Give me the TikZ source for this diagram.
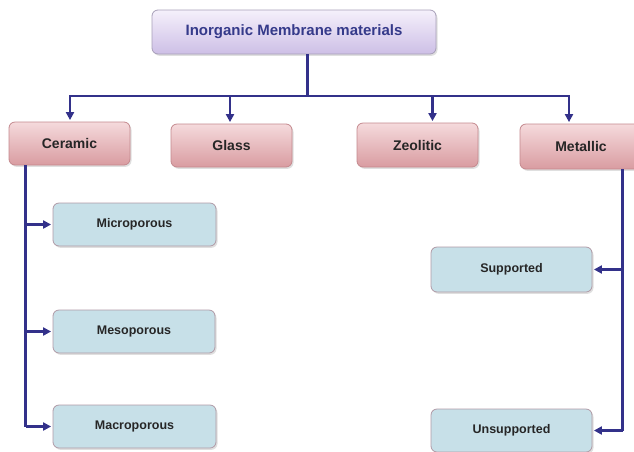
\documentclass[tikz,border=0pt]{standalone}
\usepackage{fontspec}
\setmainfont{Liberation Sans}
\usetikzlibrary{arrows.meta,shadows}

\definecolor{linkblue}{HTML}{33318A}
\definecolor{titleblue}{HTML}{353A8A}
\definecolor{pinktop}{HTML}{F5DADC}
\definecolor{pinkbot}{HTML}{D99CA1}
\definecolor{pinkedge}{HTML}{C4898E}
\definecolor{lavtop}{HTML}{F5F0FB}
\definecolor{lavbot}{HTML}{CDBFE6}
\definecolor{lavedge}{HTML}{A79FB8}
\definecolor{cyanfill}{HTML}{C7E0E8}
\definecolor{cyanedge}{HTML}{B09AA6}

\tikzset{
  boxbase/.style={rectangle, rounded corners=6pt, line width=0.8pt,
    drop shadow={opacity=0.25, shadow xshift=1.5pt, shadow yshift=-1.8pt},
    font=\bfseries, align=center, inner sep=0pt},
  titlebox/.style={boxbase, draw=lavedge, top color=lavtop, bottom color=lavbot,
    text=titleblue, font=\fontsize{15}{18}\selectfont\bfseries},
  kindbox/.style={boxbase, draw=pinkedge, top color=pinktop, bottom color=pinkbot,
    text=black!85, font=\fontsize{14}{17}\selectfont\bfseries},
  subbox/.style={boxbase, draw=cyanedge, fill=cyanfill,
    text=black!85, font=\fontsize{12.5}{15}\selectfont\bfseries},
  wire/.style={draw=linkblue, line width=2.2pt},
  link/.style={wire, -{Triangle[length=8pt,width=8pt]}, shorten >=1.5pt}
}

\begin{document}
\begin{tikzpicture}[x=1pt, y=-1pt]
  \useasboundingbox (0,0) rectangle (634,451);
  \clip (0,0) rectangle (634,451);

  % title
  \node[titlebox, minimum width=284pt, minimum height=44pt] (top) at (294,32)
    {Inorganic Membrane materials};

  % material classes
  \node[kindbox, minimum width=121pt, minimum height=43pt] (ceramic)  at (69.5,143.5) {Ceramic};
  \node[kindbox, minimum width=121pt, minimum height=43pt] (glass)    at (231.5,145.5) {Glass};
  \node[kindbox, minimum width=121pt, minimum height=44pt] (zeolitic) at (417.5,145) {Zeolitic};
  \node[kindbox, minimum width=122pt, minimum height=45pt] (metallic) at (581,146.5) {Metallic};

  % ceramic sub-types
  \node[subbox, minimum width=163pt, minimum height=43pt] (micro) at (134.5,224.5) {Microporous};
  \node[subbox, minimum width=162pt, minimum height=43pt] (meso)  at (134,331.5) {Mesoporous};
  \node[subbox, minimum width=163pt, minimum height=43pt] (macro) at (134.5,426.5) {Macroporous};

  % metallic sub-types
  \node[subbox, minimum width=161pt, minimum height=45pt] (supp)   at (511.5,269.5) {Supported};
  \node[subbox, minimum width=161pt, minimum height=43pt] (unsupp) at (511.5,430.5) {Unsupported};

  % distribution bus under the title
  \coordinate (stem) at (307.5,96);
  \coordinate (busA) at (70,96);
  \coordinate (busB) at (230,96);
  \coordinate (busC) at (432.5,96);
  \coordinate (busD) at (569,96);
  \draw[wire] (stem |- top.south) -- (stem);
  \draw[wire, line cap=rect] (busA) -- (busD);
  \draw[link] (busA) -- (busA |- ceramic.north);
  \draw[link] (busB) -- (busB |- glass.north);
  \draw[link] (busC) -- (busC |- zeolitic.north);
  \draw[link] (busD) -- (busD |- metallic.north);

  % ceramic branch
  \coordinate (cx) at (25.5,0);
  \draw[wire] (cx |- ceramic.south) -- (cx |- macro.west);
  \draw[link] (cx |- micro.west) -- (micro.west);
  \draw[link] (cx |- meso.west) -- (meso.west);
  \draw[link] (cx |- macro.west) -- (macro.west);

  % metallic branch
  \coordinate (mx) at (622.5,0);
  \draw[wire] (mx |- metallic.south) -- (mx |- unsupp.east);
  \draw[link] (mx |- supp.east) -- (supp.east);
  \draw[link] (mx |- unsupp.east) -- (unsupp.east);
\end{tikzpicture}
\end{document}
